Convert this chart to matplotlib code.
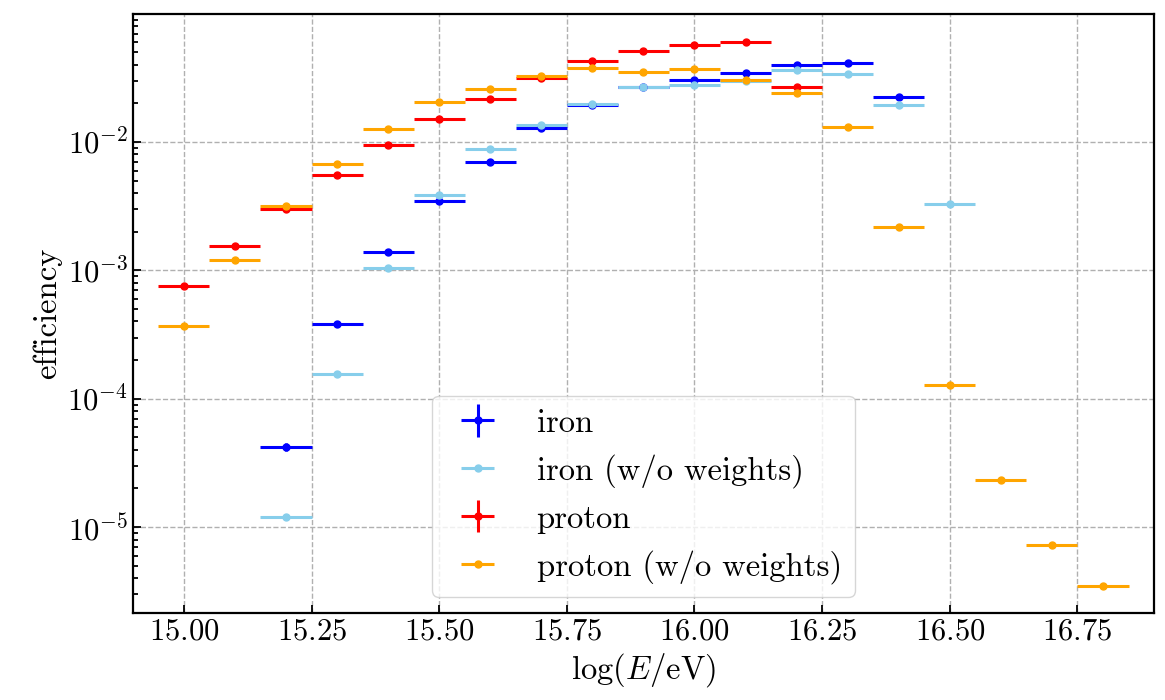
import numpy as np
import matplotlib
matplotlib.use("Agg")
import matplotlib.pyplot as plt

# energy bins (bin centres, width 0.1)
x_iron = [15.2, 15.3, 15.4, 15.5, 15.6, 15.7, 15.8, 15.9, 16.0, 16.1, 16.2, 16.3, 16.4]
eff_iron = [4.2e-5, 3.8e-4, 1.38e-3, 3.5e-3, 7.0e-3, 1.29e-2, 1.96e-2, 2.67e-2,
            3.05e-2, 3.43e-2, 3.97e-2, 4.11e-2, 2.23e-2]
err_iron = [3e-6, 2e-5, 5e-5, 1e-4, 2e-4, 3e-4, 4e-4, 5e-4, 6e-4, 6e-4, 7e-4, 7e-4, 5e-4]

x_iron_nw = [15.2, 15.3, 15.4, 15.5, 15.6, 15.7, 15.8, 15.9, 16.0, 16.1, 16.2, 16.3, 16.4, 16.5]
eff_iron_nw = [1.2e-5, 1.57e-4, 1.04e-3, 3.9e-3, 8.9e-3, 1.35e-2, 1.99e-2, 2.69e-2,
               2.77e-2, 3.0e-2, 3.62e-2, 3.40e-2, 1.93e-2, 3.28e-3]

x_proton = [15.0, 15.1, 15.2, 15.3, 15.4, 15.5, 15.6, 15.7, 15.8, 15.9, 16.0, 16.1, 16.2]
eff_proton = [7.6e-4, 1.55e-3, 3.0e-3, 5.5e-3, 9.4e-3, 1.50e-2, 2.16e-2, 3.16e-2,
              4.31e-2, 5.16e-2, 5.68e-2, 6.02e-2, 2.67e-2]
err_proton = [2e-5, 4e-5, 6e-5, 1e-4, 2e-4, 3e-4, 4e-4, 5e-4, 6e-4, 7e-4, 7e-4, 8e-4, 5e-4]

x_proton_nw = [15.0, 15.1, 15.2, 15.3, 15.4, 15.5, 15.6, 15.7, 15.8, 15.9, 16.0, 16.1,
               16.2, 16.3, 16.4, 16.5, 16.6, 16.7, 16.8]
eff_proton_nw = [3.7e-4, 1.2e-3, 3.16e-3, 6.8e-3, 1.27e-2, 2.05e-2, 2.61e-2, 3.26e-2,
                 3.80e-2, 3.54e-2, 3.71e-2, 3.03e-2, 2.40e-2, 1.30e-2, 2.16e-3,
                 1.27e-4, 2.33e-5, 7.2e-6, 3.48e-6]

bin_half = 0.05

plt.rcParams['font.family'] = 'serif'
plt.rcParams['font.serif'] = ['cmr10']
plt.rcParams['mathtext.fontset'] = 'cm'
plt.rcParams['axes.formatter.use_mathtext'] = True
plt.rcParams['axes.unicode_minus'] = False
plt.rcParams['font.size'] = 22

fig, ax = plt.subplots(figsize=(11.65, 7), dpi=100)
fig.subplots_adjust(left=0.114, right=0.9906, top=0.98, bottom=0.124)

style = dict(fmt='o', markersize=5, elinewidth=2.2, capsize=0)
ax.errorbar(x_iron, eff_iron, xerr=bin_half, yerr=err_iron, color='blue', label='iron', **style)
ax.errorbar(x_iron_nw, eff_iron_nw, xerr=bin_half, color='skyblue', label='iron (w/o weights)', **style)
ax.errorbar(x_proton, eff_proton, xerr=bin_half, yerr=err_proton, color='red', label='proton', **style)
ax.errorbar(x_proton_nw, eff_proton_nw, xerr=bin_half, color='orange', label='proton (w/o weights)', **style)

ax.set_yscale('log')
ax.set_xlim(14.9, 16.9)
ax.set_xticks([15.0, 15.25, 15.5, 15.75, 16.0, 16.25, 16.5, 16.75])
ax.set_xlabel(r'$\log(E/\mathrm{eV})$', fontsize=23.5)
ax.set_ylabel('efficiency', fontsize=23.5)

ax.grid(True, which='major', linestyle='--', color='#b0b0b0', linewidth=1)
ax.tick_params(which='both', direction='in', width=1.3)
ax.tick_params(which='major', length=6)
ax.tick_params(which='minor', length=3.5)
for s in ax.spines.values():
    s.set_linewidth(1.6)

ax.legend(loc='lower center', fontsize=23.5)

fig.savefig('out.png', dpi=100)
